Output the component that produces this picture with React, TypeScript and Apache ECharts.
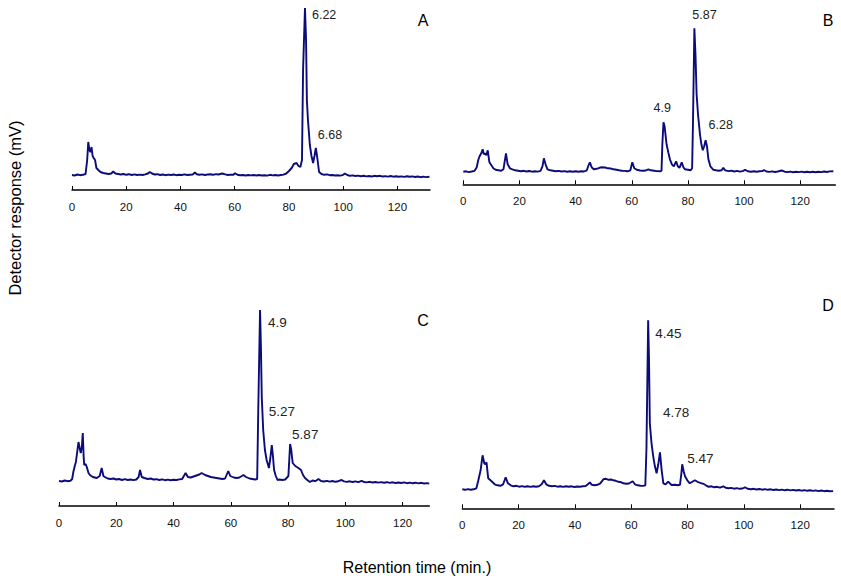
import React, { useEffect, useRef } from "react";
import * as echarts from "echarts";

// Retention time (min) vs detector response (arbitrary mV scale)
const xTicks = [0, 20, 40, 60, 80, 100, 120];

const traceA: number[][] = [
  [0,15],[1,14.5],[2,15.5],[3,14.8],[4,15.2],[5,16],[5.6,30],[6.0,48],[6.4,40],[6.8,38],[7.2,43],[7.6,34],[8.0,32],[8.5,30],[9.0,22],[9.7,20],[10.5,18],[11.5,17],[12.5,16.5],[13.5,16],[14.5,16.5],[15.2,18.5],[16,16.5],[17,16],[18,15.5],[19,16],[20,15.2],[21,15.8],[22,15],[23,15.6],[24,15],[25,15.4],[26,15],[27,15.6],[28,16.5],[28.7,18],[29.5,16.5],[30.5,15.5],[31.5,15.8],[32.5,15],[33.5,15.5],[34.5,14.8],[35.5,15.4],[36.5,15],[37.5,15.5],[38.5,14.8],[39.5,15.2],[40.5,15],[41.5,15.6],[42.5,15],[43.5,15.3],[44.5,15.5],[45.3,17.5],[46,15.8],[47,15.2],[48,15.6],[49,15],[50,15.5],[51,15.8],[52,15.2],[53,15.9],[54,15.5],[55.4,16.5],[56.5,15.6],[57.5,15],[58.5,15.4],[59.5,15.2],[60.1,16.8],[61,15.2],[62,14.8],[63,15],[64,14.5],[65,15],[66,14.6],[67,15],[68,14.5],[69,15],[70,14.5],[71,14.8],[72,14.4],[73,15.2],[74,14.6],[75,15],[76,14.5],[77,15],[78,15.4],[79,16.5],[80,19],[81,22],[81.8,26],[82.8,27],[83.5,24],[84.2,23],[84.8,30],[85.2,120],[85.9,182],[86.3,150],[86.6,90],[87,70],[87.7,45],[88.3,34],[88.9,27],[89.4,34],[89.9,42],[90.4,33],[91.1,18],[92,16],[93,15.2],[94,15.6],[95,14.8],[96,15],[97,14.5],[98,14.8],[99,14.4],[100,15.2],[100.6,16.5],[101.5,15],[102.5,14.2],[103.5,14.6],[104.5,14],[105.5,14.4],[106.5,13.8],[107.5,14.2],[108.5,13.6],[109.5,14],[110.5,13.5],[111.5,14.2],[112.5,13.8],[113.5,14.2],[114.5,13.5],[115.5,13.9],[116.5,13.4],[117.5,14],[118.5,13.3],[119.5,13.8],[120.5,13.2],[121.5,13.6],[122.5,13.1],[123.5,13.7],[124.5,13.2],[125.5,13.6],[126.5,13],[127.5,13.5],[128.5,12.8],[129.5,13.4],[130.5,12.9],[131.8,13.2]
];

const traceB: number[][] = [
  [0,12.5],[1,13],[2,12.2],[3,12.8],[4,13.5],[4.8,17],[5.3,24],[5.8,28],[6.4,31],[6.9,35],[7.3,30],[7.7,31],[8.2,29],[8.7,34],[9.3,22],[10,19],[10.7,16],[11.5,14.5],[12.5,14],[13.5,13.5],[14.3,15],[15.2,31],[15.8,20],[16.6,16],[17.5,15],[18.5,14],[19.5,13.5],[20.5,13],[21.5,13.5],[22.5,12.8],[23.5,13.3],[24.5,12.6],[25.5,13.1],[26.5,12.7],[27.5,13.4],[28.2,18],[28.7,26],[29.3,20],[30,15],[31,14],[32,13.5],[33,13],[34,13.4],[35,12.8],[36,13.2],[37,12.6],[38,13],[39,12.5],[40,13.1],[41,12.6],[42,13],[43,12.8],[44,14],[44.6,19],[45.1,22],[45.7,17],[46.5,15],[47.5,15.5],[48.5,16.5],[49.3,17],[50.5,16.8],[51.5,16],[52.5,15.8],[53.5,15],[54.6,14.5],[55.5,14],[56.5,13.6],[57.5,13.4],[58.5,13],[59.5,14],[60.2,22],[60.9,16],[61.8,14.5],[63,13.8],[64,13.5],[65,13.8],[65.9,15],[66.8,14],[68,13.6],[69,13.2],[70,13],[70.6,13.5],[70.9,40],[71.3,62],[71.7,58],[72.4,40],[73,32],[73.6,25],[74.3,20],[75,18],[75.8,23],[76.4,18],[77,16.5],[77.8,22],[78.4,17],[79,15],[80,14.5],[81,14],[81.5,16],[81.8,60],[82.3,156],[82.7,130],[83.1,90],[83.6,70],[84.3,50],[84.8,40],[85.3,34],[85.8,38],[86.3,44],[86.8,38],[87.3,25],[88,18],[89.1,14.5],[90,14],[91,13.5],[92,14],[92.6,16.5],[93.3,14],[94.5,13.2],[95.5,13.6],[96.5,12.8],[97.5,13.4],[98.5,12.7],[99.5,13.2],[100.4,14.5],[101.3,13],[102.5,12.6],[103.5,13.1],[104.5,12.5],[105.5,13],[106.5,13.2],[107.1,14.3],[108,12.8],[109,12.4],[110,12.9],[111,12.3],[112,12.8],[113.4,13.8],[114.5,12.6],[115.5,12.2],[116.5,12.7],[117.5,12.1],[118.5,12.6],[119.5,12.2],[120.5,12.7],[121.5,12.1],[122.5,12.6],[123.5,12],[124.5,12.5],[125.5,12.1],[126.5,12.6],[127.5,12.2],[128.5,12.8],[129.5,12.3],[130.5,12.9],[131.8,13]
];

const traceC: number[][] = [
  [0,25],[1,24.5],[2,25.5],[3,24.8],[4,25.3],[4.6,27],[5.0,34],[5.5,40],[5.9,44],[6.4,55],[6.8,64],[7.2,58],[7.6,53],[8.0,60],[8.3,73],[8.6,50],[8.8,41],[9.3,42],[9.7,39],[10.3,33],[10.8,31],[11.8,29],[13.2,28],[14.2,30],[14.9,38],[15.5,30],[16,29],[17,27.5],[18,27],[19,27.5],[20,26.5],[21,27],[22,26],[23,26.8],[24,26],[25,26.5],[26,25.8],[27,26.5],[27.8,29],[28.3,36],[28.9,29],[29.8,28],[31,27],[32,27.5],[33,26.5],[34,26.8],[35,26],[36,26.6],[37,25.8],[38,26.4],[39,25.8],[40,26.2],[41,26],[42,26.6],[43,27],[44.2,33],[45,29],[46,28.5],[47,29.5],[48,30.5],[49,31.5],[49.8,33],[51,31],[52,30],[53,29],[54,28.5],[55,28],[56,27.5],[57,27],[58,27.5],[59.1,35],[59.8,30],[61,28.5],[62,28],[63,28.5],[64.4,31],[65.3,29],[66.5,27.5],[67.5,27],[68.5,26.5],[69.2,27],[69.6,100],[70.2,196],[70.5,160],[70.8,109],[71.3,76],[71.9,56],[72.5,46],[73.3,38],[73.8,48],[74.3,61],[74.7,50],[75.1,36],[75.7,30],[76.3,26],[77,26.5],[78,26],[79,26.5],[80.1,30],[80.7,62],[81.1,56],[81.6,43],[82.5,40],[83.6,38],[84.5,36],[85.2,31],[85.9,28],[86.7,26],[87.6,24],[88.5,25.5],[89.5,24.8],[90.6,27],[91.5,25],[92.5,24.5],[93.5,25.2],[94.5,24.3],[95.5,25],[96.5,24.2],[97.5,24.8],[98.7,26],[99.5,24.6],[100.5,24.1],[101.5,24.7],[102.5,24],[103.5,24.6],[104.5,23.8],[105.7,25.2],[106.5,24],[107.5,23.6],[108.5,24.2],[109.5,23.5],[110.5,24],[111.5,23.4],[112.5,23.9],[113.5,23.3],[114.5,23.8],[115.5,23.1],[116.5,23.7],[117.5,23],[118.5,23.5],[119.5,23],[120.5,23.6],[121.5,22.8],[122.5,23.4],[123.5,22.7],[124.5,23.3],[125.5,22.6],[126.5,23.2],[127.5,22.5],[128.5,22.9],[129.3,22.4]
];

const traceD: number[][] = [
  [0,19],[1,18.5],[2,19.2],[3,18.6],[4,19],[5,20],[5.7,28],[6.5,38],[7.2,53],[7.8,45],[8.2,44],[8.6,46],[9.2,30],[10.4,27],[11.5,24],[12.5,23],[13.5,22.5],[14.5,24],[15.4,31],[16.2,25],[17.2,23],[18.2,22],[19.2,22.5],[20.2,21.6],[21.2,22.2],[22.2,21.5],[23.2,22],[24.2,21.4],[25.2,22],[26.2,21.5],[27.2,22],[28.2,24],[29,28],[29.8,24],[30.8,22.5],[31.8,22],[32.8,22.4],[33.8,21.6],[34.8,22],[35.8,21.4],[36.8,22],[37.8,21.5],[38.8,22],[39.8,21.3],[40.8,21.8],[41.8,21.5],[42.8,22],[43.8,22.3],[44.6,24],[45.3,26],[46,23.5],[47,23],[48,23.5],[49,25],[50.1,29],[51,29.5],[52,28.5],[53,28.8],[53.6,28],[54.5,27.5],[55.5,26.5],[56.5,26],[57.2,25],[58.2,24.5],[59.2,24.8],[60.5,27],[61.3,24],[62.3,23],[63.3,22.5],[64.3,22.4],[65.0,23],[65.4,60],[66.0,188],[66.3,150],[66.6,85],[67.2,65],[67.8,52],[68.4,42],[69,35],[69.6,44],[70.2,56],[70.8,38],[71.4,25],[72.2,24],[73.1,26.7],[74.3,23.3],[75.5,23.5],[76.5,23],[77.3,23.5],[77.8,35],[78.1,44],[78.6,37],[79.1,32],[79.9,28],[80.8,25],[81.7,26.5],[82.6,28],[83.5,26.5],[84.5,25.5],[85.6,24.5],[86.5,23],[87.5,21.5],[88.5,22],[89.5,21],[90.5,21.5],[91.5,20.6],[92.7,22],[93.5,20.5],[94.5,20],[95.5,20.4],[96.5,19.6],[97.5,20.2],[98.5,19.5],[99.5,19.8],[100.4,21],[101.3,19.5],[102.5,19],[103.5,19.5],[104.5,18.8],[105.5,19.3],[106.5,18.6],[107.5,19.2],[108.5,18.5],[109.5,19],[110.5,18.3],[111.5,18.8],[112.5,18.2],[113.5,18.7],[114.5,18],[115.5,18.6],[116.5,17.9],[117.5,18.4],[118.5,17.8],[119.5,18.3],[120.5,17.6],[121.5,18.2],[122.5,17.5],[123.5,18],[124.5,17.4],[125.5,17.9],[126.5,17.2],[127.5,17.8],[128.5,17.1],[129.5,17.6],[130.5,17],[131.7,17.2]
];

// peak annotations: label text and retention time of the peak it marks
const peaksA = [{ text: "6.22", t: 85.9 }, { text: "6.68", t: 89.9 }];
const peaksB = [{ text: "4.9", t: 71.3 }, { text: "5.87", t: 82.3 }, { text: "6.28", t: 86.3 }];
const peaksC = [{ text: "4.9", t: 70.2 }, { text: "5.27", t: 74.3 }, { text: "5.87", t: 80.7 }];
const peaksD = [{ text: "4.45", t: 66.0 }, { text: "4.78", t: 70.2 }, { text: "5.47", t: 78.1 }];

const panelNames = ["A", "B", "C", "D"];

const FONT = "'Liberation Sans', Arial, Helvetica, sans-serif";
const LINE = "#0b0b7a";

export default function App() {
  const ref = useRef<HTMLDivElement>(null);

  useEffect(() => {
    document.body.style.margin = "0";
    if (!ref.current) return;
    const chart = echarts.init(ref.current, null, { renderer: "svg" });

    const panels = [
      { data: traceA, peaks: peaksA, grid: { left: 72, top: 5, width: 358, height: 185 }, xMax: 132, yMax: 185,
        offsets: [[7, 7], [2, -13]], fs: 12.5, letter: { x: 423, y: 20 } },
      { data: traceB, peaks: peaksB, grid: { left: 463.3, top: 5, width: 372, height: 179.3 }, xMax: 132.5, yMax: 179.3,
        offsets: [[-10, -14], [-2, -13], [3, -15]], fs: 12.5, letter: { x: 828, y: 20 } },
      { data: traceC, peaks: peaksC, grid: { left: 59, top: 300, width: 370.3, height: 206 }, xMax: 129.3, yMax: 206,
        offsets: [[8, 12], [-3, -34], [2, -10]], fs: 13.5, letter: { x: 423, y: 320 } },
      { data: traceD, peaks: peaksD, grid: { left: 462.3, top: 300, width: 371.7, height: 208.3 }, xMax: 132, yMax: 208.3,
        offsets: [[7, 13], [3, -40], [5, -6]], fs: 13.5, letter: { x: 828, y: 305 } },
    ];

    const lookup = (data: number[][], t: number) => {
      let best = data[0];
      for (const p of data) if (Math.abs(p[0] - t) < Math.abs(best[0] - t)) best = p;
      return best[1];
    };

    const option: any = {
      animation: false,
      grid: panels.map((p) => ({ ...p.grid, containLabel: false })),
      xAxis: panels.map((p, i) => ({
        type: "value",
        gridIndex: i,
        min: 0,
        max: p.xMax,
        interval: 20,
        splitLine: { show: false },
        axisLine: { show: true, lineStyle: { color: "#000", width: 1.5 } },
        axisTick: { show: true, inside: true, length: 4, lineStyle: { color: "#000", width: 1 }, customValues: xTicks },
        axisLabel: { color: "#111", fontSize: 11.5, fontFamily: FONT, margin: 11, customValues: xTicks },
      })),
      yAxis: panels.map((p, i) => ({
        type: "value",
        gridIndex: i,
        min: 0,
        max: p.yMax,
        show: false,
        splitLine: { show: false },
      })),
      series: panels.map((p, i) => ({
        type: "line",
        xAxisIndex: i,
        yAxisIndex: i,
        data: p.data,
        showSymbol: false,
        symbol: "none",
        lineStyle: { color: LINE, width: 1.9 },
        silent: true,
        markPoint: {
          symbol: "circle",
          symbolSize: 0,
          silent: true,
          data: p.peaks.map((pk, j) => ({
            coord: [pk.t, lookup(p.data, pk.t)],
            label: {
              show: true,
              formatter: pk.text,
              position: p.offsets[j],
              align: "left",
              verticalAlign: "middle",
              fontSize: p.fs,
              fontFamily: FONT,
              color: "#222",
            },
          })),
        },
      })),
      graphic: [
        ...panels.map((p, i) => ({
          type: "text",
          x: p.letter.x,
          y: p.letter.y,
          style: { text: panelNames[i], font: `16px ${FONT}`, fill: "#000", align: "center", verticalAlign: "middle" },
        })),
        {
          type: "text",
          x: 417,
          y: 567,
          style: { text: "Retention time (min.)", font: `16px ${FONT}`, fill: "#000", align: "center", verticalAlign: "middle" },
        },
        {
          type: "text",
          x: 15,
          y: 208,
          rotation: Math.PI / 2,
          style: { text: "Detector response (mV)", font: `16.5px ${FONT}`, fill: "#000", align: "center", verticalAlign: "middle" },
        },
      ],
    };

    chart.setOption(option);
    return () => chart.dispose();
  }, []);

  return <div ref={ref} style={{ width: 841, height: 579 }} />;
}
